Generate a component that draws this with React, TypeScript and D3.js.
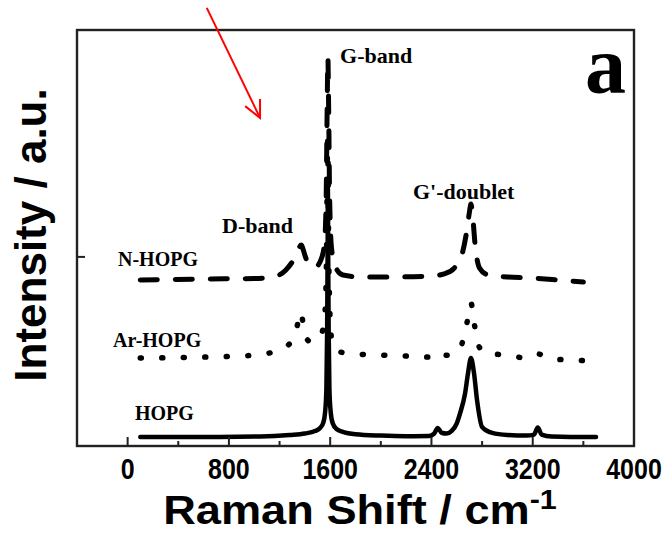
import React from "react";
import * as d3 from "d3";

// Raman spectra (shift in cm^-1, stacked intensity in a.u.)
const hopg: [number, number][] = [
  [100, 0.048], [600, 0.048], [1050, 0.05], [1280, 0.058], [1400, 0.066], [1480, 0.079],
  [1520, 0.095], [1545, 0.122], [1560, 0.18], [1570, 0.3], [1576, 0.61], [1580, 1.04],
  [1582, 1.36], [1584, 1.04], [1588, 0.61], [1594, 0.3], [1604, 0.18], [1620, 0.12],
  [1650, 0.09], [1700, 0.075], [1800, 0.062], [2000, 0.055], [2200, 0.052], [2380, 0.053],
  [2420, 0.065], [2450, 0.095], [2480, 0.07], [2520, 0.066], [2560, 0.08], [2600, 0.12],
  [2627, 0.175], [2666, 0.28], [2689, 0.386], [2712, 0.465], [2736, 0.386], [2760, 0.243],
  [2800, 0.1], [2880, 0.069], [3000, 0.058], [3150, 0.055], [3210, 0.06], [3240, 0.098],
  [3270, 0.06], [3350, 0.05], [3500, 0.048], [3700, 0.048],
];

const arHopg: [number, number][] = [
  [100, 0.465], [600, 0.47], [1000, 0.48], [1150, 0.497], [1260, 0.529], [1320, 0.587],
  [1350, 0.666], [1365, 0.709], [1385, 0.656], [1410, 0.571], [1450, 0.55], [1500, 0.56],
  [1540, 0.61], [1560, 0.72], [1572, 1.04], [1580, 1.62], [1588, 1.04], [1600, 0.666],
  [1620, 0.534], [1680, 0.497], [1800, 0.487], [2000, 0.481], [2200, 0.476], [2380, 0.47],
  [2450, 0.497], [2520, 0.48], [2600, 0.497], [2650, 0.56], [2685, 0.666], [2712, 0.756],
  [2740, 0.64], [2770, 0.534], [2830, 0.49], [3000, 0.481], [3150, 0.465], [3240, 0.487],
  [3350, 0.46], [3500, 0.455], [3650, 0.45],
];

const nHopg: [number, number][] = [
  [100, 0.878], [600, 0.883], [1000, 0.886], [1150, 0.894], [1250, 0.931], [1300, 0.973],
  [1340, 1.02], [1370, 1.063], [1400, 1.01], [1430, 0.957], [1480, 0.945], [1530, 0.99],
  [1555, 1.07], [1568, 1.3], [1576, 1.777], [1582, 2.05], [1588, 1.777], [1596, 1.3],
  [1610, 1.05], [1640, 0.95], [1700, 0.904], [1850, 0.894], [2100, 0.894], [2400, 0.899],
  [2500, 0.91], [2580, 0.941], [2640, 1.01], [2680, 1.142], [2700, 1.237], [2712, 1.28],
  [2725, 1.22], [2745, 1.063], [2780, 0.941], [2850, 0.904], [3000, 0.894], [3200, 0.888],
  [3400, 0.878], [3600, 0.867],
];

const xTicks = [0, 400, 800, 1200, 1600, 2000, 2400, 2800, 3200, 3600, 4000];
const xTickLabels = [0, 800, 1600, 2400, 3200, 4000];
const yTicks = [1];

// text annotations: [text, shift, intensity]
const peakLabels: [string, number, number][] = [
  ["G-band", 1678, 2.026],
  ["D-band", 746, 1.126],
  ["G'-doublet", 2254, 1.306],
];
const seriesLabels: [string, number, number][] = [
  ["N-HOPG", -76, 0.952],
  ["Ar-HOPG", -115, 0.524],
  ["HOPG", 58, 0.1375],
];
const arrowPts: [number, number][] = [
  [625, 2.317],
  [1046, 1.735],
];

const W = 671;
const H = 545;
const left = 77;
const right = 634;
const top = 30;
const bottom = 446;

export default function App() {
  const x = d3.scaleLinear().domain([-400, 4000]).range([left, right]);
  const y = d3.scaleLinear().domain([0, 2.2]).range([bottom, top]);
  const line = d3
    .line<[number, number]>()
    .x((d) => x(d[0]))
    .y((d) => y(d[1]))
    .curve(d3.curveMonotoneX);

  const serif = "'Liberation Serif', 'Times New Roman', serif";
  const sans = "'Liberation Sans', Arial, sans-serif";

  const [a0, a1] = arrowPts.map(([s, v]) => [x(s), y(v)]);
  const ang = Math.atan2(a1[1] - a0[1], a1[0] - a0[0]);
  const head = 19;
  const spread = 0.45;
  const h1 = [a1[0] - head * Math.cos(ang - spread), a1[1] - head * Math.sin(ang - spread)];
  const h2 = [a1[0] - head * Math.cos(ang + spread), a1[1] - head * Math.sin(ang + spread)];

  return (
    <svg width={W} height={H} style={{ position: "absolute", left: 0, top: 0, background: "#fff" }}>
      <rect x={0} y={0} width={W} height={H} fill="#fff" />
      {/* spectra */}
      <path d={line(hopg) ?? ""} fill="none" stroke="#000" strokeWidth={4.5} strokeLinejoin="round" strokeLinecap="round" />
      <path d={line(arHopg) ?? ""} fill="none" stroke="#000" strokeWidth={5.5} strokeDasharray="1 20.5" strokeLinecap="round" />
      <path d={line(nHopg) ?? ""} fill="none" stroke="#000" strokeWidth={5} strokeDasharray="17 18" strokeLinecap="round" />

      {/* frame */}
      <rect x={left} y={top} width={right - left} height={bottom - top} fill="none" stroke="#222" strokeWidth={2.4} />
      {xTicks.map((t) => (
        <line key={t} x1={x(t)} x2={x(t)} y1={bottom} y2={bottom - (t % 800 === 0 ? 9 : 5)} stroke="#222" strokeWidth={2} />
      ))}
      {yTicks.map((t) => (
        <line key={t} x1={left} x2={left + 8} y1={y(t)} y2={y(t)} stroke="#222" strokeWidth={2} />
      ))}
      {xTickLabels.map((t) => (
        <text key={t} transform={`translate(${x(t)},${bottom + 33}) scale(1,1.2)`} textAnchor="middle" fontFamily={sans} fontWeight="bold" fontSize={25} fill="#000">
          {t}
        </text>
      ))}

      {/* axis titles */}
      <text transform="translate(360,524) scale(1.13,1)" textAnchor="middle" fontFamily={sans} fontWeight="bold" fontSize={40} fill="#000">
        Raman Shift / cm<tspan dy={-15} fontSize={27}>-1</tspan>
      </text>
      <text transform={`translate(46,235) rotate(-90)`} textAnchor="middle" fontFamily={sans} fontWeight="bold" fontSize={44} fill="#000">
        Intensity / a.u.
      </text>

      {/* annotations */}
      {peakLabels.map(([t, s, v]) => (
        <text key={t} x={x(s)} y={y(v)} fontFamily={serif} fontWeight="bold" fontSize={22} fill="#000">
          {t}
        </text>
      ))}
      {seriesLabels.map(([t, s, v]) => (
        <text key={t} x={x(s)} y={y(v)} fontFamily={serif} fontWeight="bold" fontSize={20} fill="#000">
          {t}
        </text>
      ))}
      <text x={585} y={93} fontFamily={serif} fontWeight="bold" fontSize={82} fill="#000">
        a
      </text>

      {/* red arrow */}
      <line x1={a0[0]} y1={a0[1]} x2={a1[0]} y2={a1[1]} stroke="#f00" strokeWidth={2} />
      <polyline points={`${h1[0]},${h1[1]} ${a1[0]},${a1[1]} ${h2[0]},${h2[1]}`} fill="none" stroke="#f00" strokeWidth={2} />
    </svg>
  );
}
